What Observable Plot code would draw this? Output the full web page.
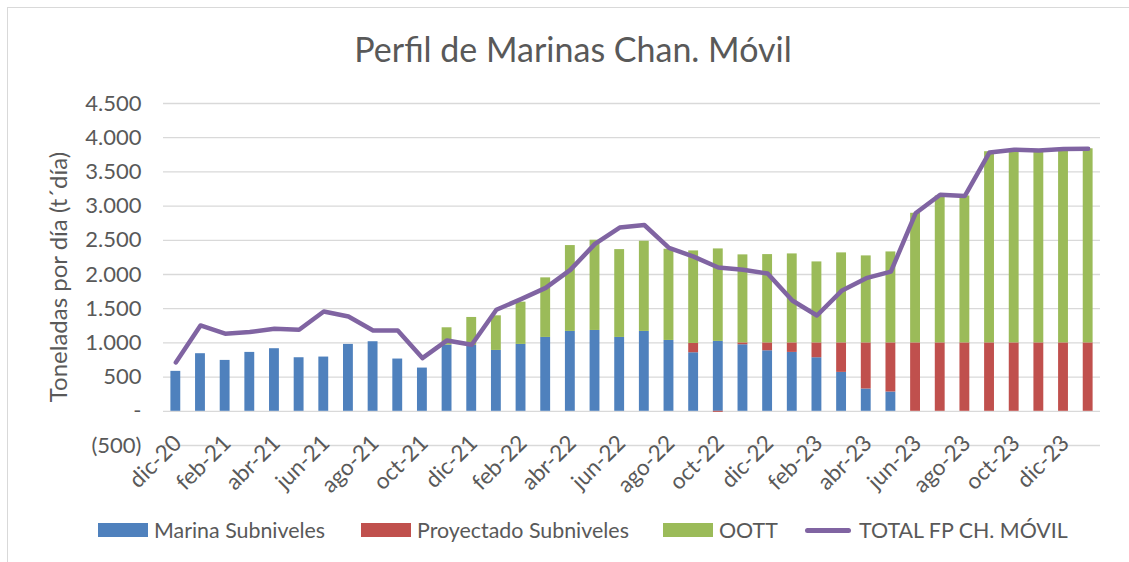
<!DOCTYPE html>
<html>
<head>
<meta charset="utf-8">
<script src="https://cdn.jsdelivr.net/npm/d3@7"></script>
<script src="https://cdn.jsdelivr.net/npm/@observablehq/plot@0.6"></script>
<style>
  html, body { margin: 0; padding: 0; background: #fff; }
  #wrap { position: relative; width: 1129px; height: 562px; overflow: hidden; font-family: Lato, "Open Sans", sans-serif; color: #595959; }
  #border { position: absolute; left: 7px; top: 7px; width: 1200px; height: 600px; border: 1px solid #d9d9d9; box-sizing: border-box; }
  #title { position: absolute; left: 0; width: 1146px; top: 29px; text-align: center; font-size: 34px; line-height: 40px; }
  #ytitle { position: absolute; left: 58px; top: 277px; transform: translate(-50%, -50%) rotate(-90deg); white-space: nowrap; font-size: 24px; line-height: 26px; }
  #chart { position: absolute; left: 0; top: 0; }
  .item { position: absolute; top: 517px; display: flex; align-items: center; font-size: 21.4px; white-space: nowrap; height: 26px; }
  .sw { width: 50px; height: 14px; margin-right: 6px; }
  .ln { width: 46px; height: 5px; border-radius: 3px; margin-right: 8px; }
</style>
</head>
<body>
<div id="wrap">
  <div id="border"></div>
  <div id="chart"></div>
  <div id="title">Perfil de Marinas Chan. Móvil</div>
  <div id="ytitle">Toneladas por día (t´día)</div>
</div>
<script>
const months = ["dic-20","ene-21","feb-21","mar-21","abr-21","may-21","jun-21","jul-21","ago-21","sep-21","oct-21","nov-21",
  "dic-21","ene-22","feb-22","mar-22","abr-22","may-22","jun-22","jul-22","ago-22","sep-22","oct-22","nov-22",
  "dic-22","ene-23","feb-23","mar-23","abr-23","may-23","jun-23","jul-23","ago-23","sep-23","oct-23","nov-23",
  "dic-23","ene-24"];
const marina = [584, 842, 744, 861, 915, 783, 793, 978, 1017, 764, 632, 968,
  963, 890, 978, 1080, 1168, 1182, 1080, 1168, 1036, 856, 1022, 973,
  885, 861, 783, 569, 326, 282, 0, 0, 0, 0, 0, 0,
  0, 0];
const proyectado = [0, 0, 0, 0, 0, 0, 0, 0, 0, 0, 0, 0,
  0, 0, 0, 0, 0, 0, 0, 0, 0, 136, -15, 27,
  115, 139, 217, 431, 674, 718, 1000, 1000, 1000, 1000, 1000, 1000,
  1000, 1000];
const oott = [0, 0, 0, 0, 0, 0, 0, 0, 0, 0, 0, 253,
  409, 506, 618, 871, 1255, 1319, 1284, 1318, 1333, 1353, 1352, 1287,
  1291, 1301, 1184, 1316, 1272, 1330, 1895, 2148, 2148, 2795, 2829, 2819,
  2838, 2838];
const total = [715, 1255, 1134, 1158, 1207, 1192, 1460, 1387, 1182, 1182, 778, 1036,
  973, 1484, 1640, 1805, 2068, 2447, 2686, 2724, 2389, 2262, 2102, 2068,
  2014, 1620, 1401, 1761, 1946, 2043, 2895, 3167, 3148, 3785, 3824, 3814,
  3834, 3838];
const series = ["Marina Subniveles", "Proyectado Subniveles", "OOTT"];
const seriesColors = ["#4F81BD", "#C0504D", "#9BBB59"];
const lineName = "TOTAL FP CH. MÓVIL";
const lineColor = "#8064A2";
const yTicks = [-500, 0, 500, 1000, 1500, 2000, 2500, 3000, 3500, 4000, 4500];
const xTicks = months.filter((d, i) => i % 2 === 0);

const seriesValues = [marina, proyectado, oott];
const table = months.flatMap((m, i) => series.map((s, k) => ({month: m, serie: s, value: seriesValues[k][i]})));

const fmt = v => {
  if (v === 0) return "-";
  const s = d3.format(",")(Math.abs(v)).replace(/,/g, ".");
  return v < 0 ? "(" + s + ")" : s;
};

const chart = Plot.plot({
  width: 1129,
  height: 500,
  marginLeft: 163,
  marginRight: 29,
  marginTop: 103,
  marginBottom: 55,
  style: {fontFamily: "Lato, 'Open Sans', sans-serif", color: "#595959", background: "transparent", overflow: "visible"},
  x: {type: "band", domain: months, paddingInner: 0.6, paddingOuter: 0.3, round: false, label: null},
  y: {domain: [-500, 4500], label: null},
  color: {domain: series, range: seriesColors},
  marks: [
    Plot.ruleY(yTicks, {stroke: "#d9d9d9", strokeWidth: 1.3}),
    Plot.barY(table, {x: "month", y: "value", fill: "serie", order: series}),
    Plot.lineY(months, {x: d => d, y: (d, i) => total[i], stroke: lineColor, strokeWidth: 4.5, strokeLinejoin: "round", strokeLinecap: "round"}),
    Plot.axisY({ticks: yTicks, tickFormat: fmt, tickSize: 0, tickPadding: 22, fontSize: 22, fill: "#595959"}),
    Plot.axisX({ticks: xTicks, tickRotate: -45, tickSize: 0, tickPadding: 0, dy: -6, dx: 2, fontSize: 22.5, fill: "#595959"})
  ]
});
document.getElementById("chart").appendChild(chart);

const legendLefts = [98, 361, 663];
const wrap = document.getElementById("wrap");
series.forEach((s, k) => {
  const it = document.createElement("div");
  it.className = "item";
  it.style.left = legendLefts[k] + "px";
  it.innerHTML = `<div class="sw" style="background:${seriesColors[k]}"></div><span>${s}</span>`;
  wrap.appendChild(it);
});
const it = document.createElement("div");
it.className = "item";
it.style.left = "805px";
it.innerHTML = `<div class="ln" style="background:${lineColor}"></div><span>${lineName}</span>`;
wrap.appendChild(it);
</script>
</body>
</html>
